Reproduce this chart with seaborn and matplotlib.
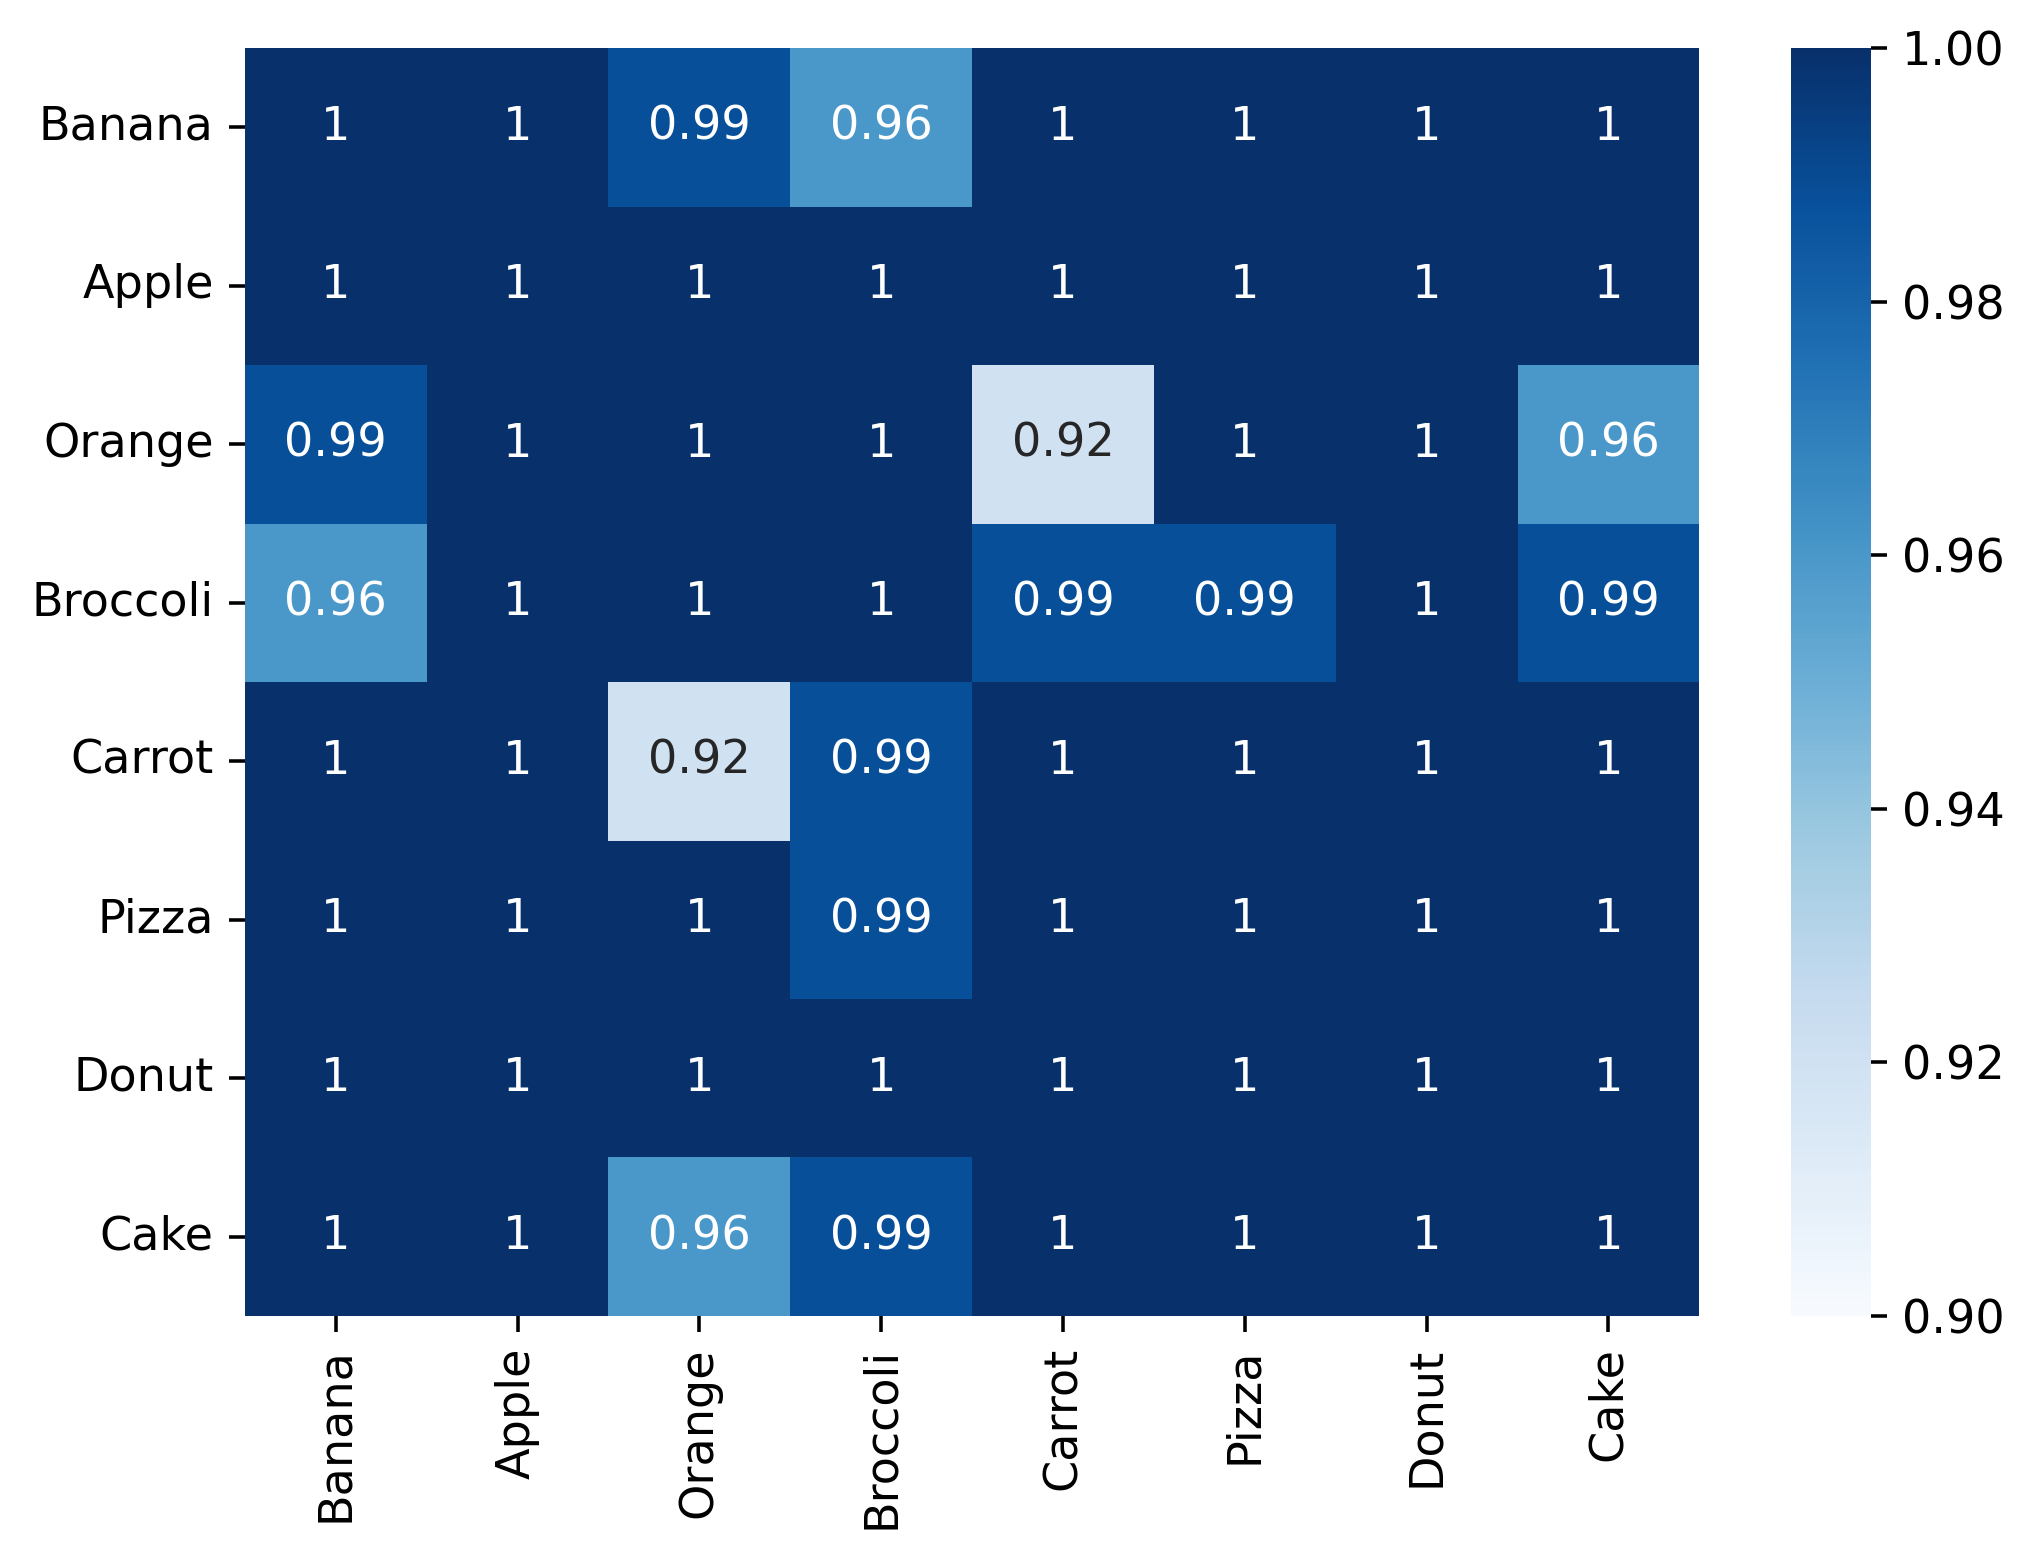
import numpy as np
import pandas as pd
import seaborn as sns
import matplotlib
matplotlib.use("Agg")
import matplotlib.pyplot as plt

labels = ["Banana", "Apple", "Orange", "Broccoli", "Carrot", "Pizza", "Donut", "Cake"]

row_banana   = [1.0, 1.0, 0.988, 0.96, 1.0, 1.0, 1.0, 1.0]
row_apple    = [1.0, 1.0, 1.0, 1.0, 1.0, 1.0, 1.0, 1.0]
row_orange   = [0.988, 1.0, 1.0, 1.0, 0.92, 1.0, 1.0, 0.96]
row_broccoli = [0.96, 1.0, 1.0, 1.0, 0.988, 0.988, 1.0, 0.988]
row_carrot   = [1.0, 1.0, 0.92, 0.988, 1.0, 1.0, 1.0, 1.0]
row_pizza    = [1.0, 1.0, 1.0, 0.988, 1.0, 1.0, 1.0, 1.0]
row_donut    = [1.0, 1.0, 1.0, 1.0, 1.0, 1.0, 1.0, 1.0]
row_cake     = [1.0, 1.0, 0.96, 0.988, 1.0, 1.0, 1.0, 1.0]

data = pd.DataFrame(
    [row_banana, row_apple, row_orange, row_broccoli,
     row_carrot, row_pizza, row_donut, row_cake],
    index=labels, columns=labels)

plt.rcParams['font.family'] = ['DejaVu Sans']
plt.rcParams['font.size'] = 10.4

fig = plt.figure(figsize=(2040/320, 1556/320), dpi=320)
ax = fig.add_axes([0.120, 0.1543, 0.713, 0.8147])
cax = fig.add_axes([0.878, 0.1543, 0.039, 0.8147])

sns.heatmap(data, ax=ax, cbar_ax=cax, cmap="Blues", vmin=0.9, vmax=1.0,
            annot=True, annot_kws={"size": 10.4})

plt.setp(ax.get_yticklabels(), rotation=0)
plt.setp(ax.get_xticklabels(), rotation=90)
cax.set_yticks([0.90, 0.92, 0.94, 0.96, 0.98, 1.00])
cax.set_yticklabels(["0.90", "0.92", "0.94", "0.96", "0.98", "1.00"])

fig.savefig("out.png", dpi=320)
